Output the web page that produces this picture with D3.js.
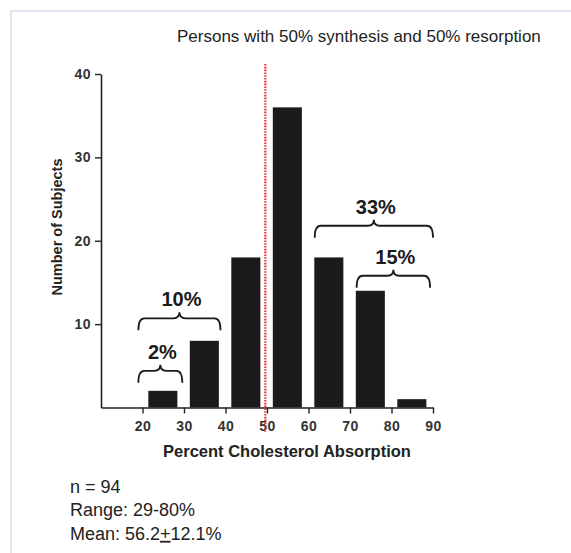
<!DOCTYPE html>
<html lang="en">
<head>
  <meta charset="UTF-8" />
  <title>Cholesterol absorption histogram</title>
  <style>
    body { margin: 0; background: #fff; font-family: "Liberation Sans", Arial, sans-serif; }
    svg { display: block; }
  </style>
</head>
<body>
  <svg id="chart"></svg>

  <script src="https://d3js.org/d3.v7.min.js"></script>
  <script>
    // histogram bins (lower edge, %) and counts
    const binStarts = [20, 30, 40, 50, 60, 70, 80];
    const counts = [2, 8, 18, 36, 18, 14, 1];
    const xTicks = [20, 30, 40, 50, 60, 70, 80, 90];
    const yTicks = [10, 20, 30, 40];

    // bracket annotations: range on x axis, level on y axis, label
    const braceFrom = [19, 19, 61.5, 71.6];
    const braceTo = [29.6, 38.8, 90, 89.3];
    const braceLevel = [4.4, 10.7, 21.8, 15.8];
    const braceLabels = ["2%", "10%", "33%", "15%"];

    const refLine = 49.6;
    const title = "Persons with 50% synthesis and 50% resorption";
    const notes = ["n = 94", "Range: 29-80%"];

    const W = 571, H = 553;
    const margin = {top: 74, left: 101, right: 138, bottom: 145.5};

    const svg = d3.select("#chart").attr("width", W).attr("height", H);

    // panel frame
    svg.append("line").attr("x1", 11).attr("x2", W).attr("y1", 11).attr("y2", 11)
      .attr("stroke", "#e2e4f3").attr("stroke-width", 2);
    svg.append("line").attr("x1", 11).attr("x2", 11).attr("y1", 11).attr("y2", H)
      .attr("stroke", "#e2e4f3").attr("stroke-width", 2);

    const x = d3.scaleLinear().domain([10, 90]).range([margin.left, W - margin.right]);
    const y = d3.scaleLinear().domain([0, 40]).range([H - margin.bottom, margin.top]);

    svg.append("text")
      .attr("x", 177).attr("y", 42)
      .attr("font-size", 17).attr("fill", "#222")
      .text(title);

    // bars
    svg.append("g").selectAll("rect")
      .data(binStarts)
      .join("rect")
      .attr("x", (d) => x(d + 1.4))
      .attr("width", x(17) - x(10))
      .attr("y", (d, i) => y(counts[i]))
      .attr("height", (d, i) => y(0) - y(counts[i]))
      .attr("fill", "#1c1a1b");

    // axes
    const xAxis = svg.append("g")
      .attr("transform", `translate(0,${y(0)})`)
      .call(d3.axisBottom(x).tickValues(xTicks).tickSize(6).tickSizeOuter(0).tickPadding(8));
    const yAxis = svg.append("g")
      .attr("transform", `translate(${x(10)},0)`)
      .call(d3.axisLeft(y).tickValues(yTicks).tickSize(6).tickSizeOuter(0).tickPadding(4));

    [xAxis, yAxis].forEach(g => {
      g.attr("font-size", null).attr("font-family", null);
      g.select(".domain").attr("stroke", "#222").attr("stroke-width", 1.6);
      g.selectAll(".tick line").attr("stroke", "#222").attr("stroke-width", 1.4);
      g.selectAll(".tick text")
        .style("font-family", "'Liberation Sans', Arial, sans-serif")
        .style("font-size", "14px").style("font-weight", "bold")
        .attr("fill", "#333").attr("letter-spacing", 0.5);
    });

    // reference line at 50%
    svg.append("line")
      .attr("x1", x(refLine)).attr("x2", x(refLine))
      .attr("y1", y(41.2)).attr("y2", y(-2.9))
      .attr("stroke", "#e8302a").attr("stroke-width", 2.2)
      .attr("stroke-dasharray", "1.6 1.2");

    // axis titles
    svg.append("text")
      .attr("x", 287).attr("y", 457)
      .attr("text-anchor", "middle")
      .attr("font-size", 16.5).attr("font-weight", "bold").attr("fill", "#222")
      .text("Percent Cholesterol Absorption");
    svg.append("text")
      .attr("transform", `translate(62,227) rotate(-90)`)
      .attr("text-anchor", "middle")
      .attr("font-size", 14.5).attr("font-weight", "bold").attr("fill", "#222")
      .text("Number of Subjects");

    // curly brackets
    function bracePath(x1, x2, yh) {
      const dh = 12, tip = 6, r = 6;
      const xm = (x1 + x2) / 2;
      return `M${x1},${yh + dh} Q${x1},${yh} ${x1 + r},${yh} L${xm - r},${yh}` +
        ` Q${xm},${yh} ${xm},${yh - tip} Q${xm},${yh} ${xm + r},${yh}` +
        ` L${x2 - r},${yh} Q${x2},${yh} ${x2},${yh + dh}`;
    }
    const braces = svg.append("g");
    braceLabels.forEach((lab, i) => {
      const x1 = x(braceFrom[i]), x2 = x(braceTo[i]), yh = y(braceLevel[i]);
      braces.append("path")
        .attr("d", bracePath(x1, x2, yh))
        .attr("fill", "none").attr("stroke", "#1c1a1b").attr("stroke-width", 1.8);
      braces.append("text")
        .attr("x", (x1 + x2) / 2 + 2).attr("y", yh - 12)
        .attr("text-anchor", "middle")
        .attr("font-size", 20).attr("font-weight", "bold").attr("fill", "#1c1a1b")
        .text(lab);
    });

    // summary notes
    const notesG = svg.append("g").attr("font-size", 18).attr("fill", "#222");
    notes.forEach((t, i) => {
      notesG.append("text").attr("x", 70).attr("y", 493 + i * 23.4).text(t);
    });
    const mean = notesG.append("text").attr("x", 70).attr("y", 493 + 2 * 23.4);
    mean.append("tspan").text("Mean: 56.2");
    mean.append("tspan").attr("text-decoration", "underline").text("+");
    mean.append("tspan").text("12.1%");
  </script>
</body>
</html>
